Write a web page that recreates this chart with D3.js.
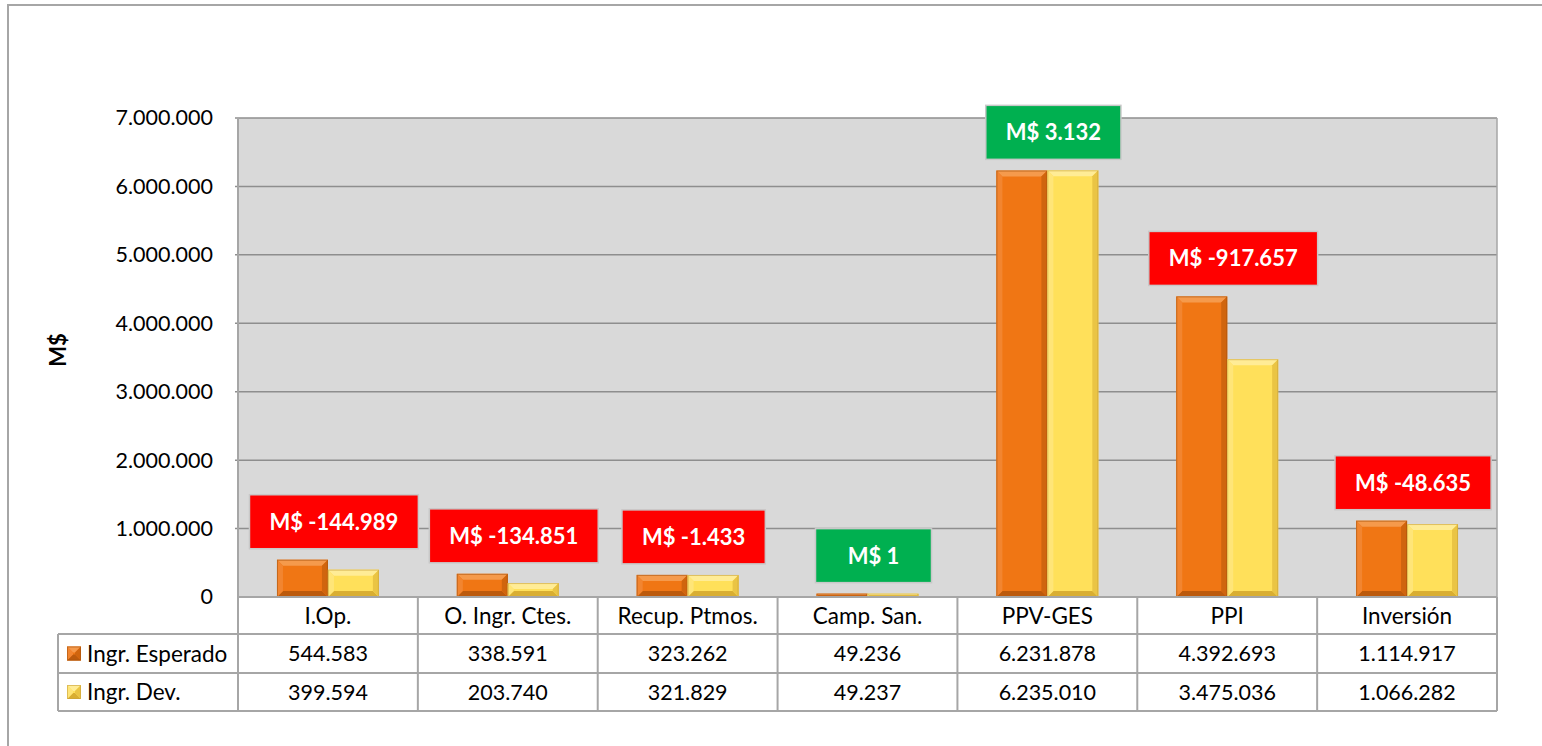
<!DOCTYPE html>
<html>
<head>
<meta charset="utf-8">
<script src="https://cdn.jsdelivr.net/npm/d3@7"></script>
<style>
  html, body { margin: 0; padding: 0; background: #fff; }
  svg { display: block; font-family: Lato, "Open Sans", sans-serif; }
</style>
</head>
<body>
<svg id="chart" width="1542" height="746"></svg>
<script>
// ---- data ----
const categories = ["I.Op.", "O. Ingr. Ctes.", "Recup. Ptmos.", "Camp. San.", "PPV-GES", "PPI", "Inversión"];
const seriesNames = ["Ingr. Esperado", "Ingr. Dev."];
const ingrEsperado = [544583, 338591, 323262, 49236, 6231878, 4392693, 1114917];
const ingrDev = [399594, 203740, 321829, 49237, 6235010, 3475036, 1066282];
const diferencia = [-144989, -134851, -1433, 1, 3132, -917657, -48635];
const yTicks = [0, 1000000, 2000000, 3000000, 4000000, 5000000, 6000000, 7000000];

// ---- layout ----
const W = 1542, H = 746;
const plot = { left: 238, right: 1497, top: 118, bottom: 597 };
const rowH = [37, 39, 38];
const legendLeft = 58;

const locale = d3.formatLocale({ decimal: ",", thousands: ".", grouping: [3], currency: ["$", ""] });
const fmt = locale.format(",d");

const svg = d3.select("#chart");
svg.append("rect").attr("width", W).attr("height", H).attr("fill", "#fff");

// outer chart border
svg.append("path").attr("d", `M8,${H} L8,5 L${W},5`).attr("fill", "none")
  .attr("stroke", "#A6A6A6").attr("stroke-width", 2);

const x0 = d3.scaleBand().domain(categories).range([plot.left, plot.right]).paddingInner(0).paddingOuter(0);
const x1 = d3.scaleBand().domain(seriesNames).range([0, x0.bandwidth()]).paddingInner(0).paddingOuter(0.765);
const y = d3.scaleLinear().domain([0, 7000000]).range([plot.bottom, plot.top]);

// plot background
svg.append("rect").attr("x", plot.left).attr("y", plot.top)
  .attr("width", plot.right - plot.left).attr("height", plot.bottom - plot.top)
  .attr("fill", "#D9D9D9");

// gridlines
svg.append("g").selectAll("line").data(yTicks.slice(1)).join("line")
  .attr("x1", plot.left - 3).attr("x2", plot.right)
  .attr("y1", d => y(d)).attr("y2", d => y(d))
  .attr("stroke", "#8E8E8E").attr("stroke-width", 1.5);

// right plot edge
svg.append("line").attr("x1", plot.right).attr("x2", plot.right)
  .attr("y1", plot.top).attr("y2", plot.bottom).attr("stroke", "#A6A6A6").attr("stroke-width", 1.5);

// y axis labels
const yAxis = d3.axisLeft(y).tickValues(yTicks).tickFormat(fmt).tickSize(0).tickPadding(25);
const ga = svg.append("g").attr("transform", `translate(${plot.left},0)`).call(yAxis);
ga.select(".domain").remove();
ga.selectAll("text").attr("font-size", 21.5).attr("fill", "#000")
  .attr("font-family", "Lato, sans-serif");

// y axis title
svg.append("text").attr("transform", "translate(66,350) rotate(-90)")
  .attr("text-anchor", "middle").attr("font-weight", "bold").attr("font-size", 22)
  .text("M$");

// ---- bevel bars ----
const palettes = {
  "Ingr. Esperado": { face: "#F07614", top: "#F59A4C", left: "#F28530", right: "#D0650E", bottom: "#BC5A0C", stroke: "#A9540E" },
  "Ingr. Dev.":     { face: "#FFE05A", top: "#FFEC96", left: "#FFE578", right: "#EAC444", bottom: "#D9AE32", stroke: "#C9A23A" }
};
function bevelBar(g, x, yTop, w, h, p) {
  const b = Math.max(0, Math.min(6, h / 2, w / 2));
  const yb = yTop + h, xr = x + w;
  const pt = a => a.map(q => q.join(",")).join(" ");
  g.append("rect").attr("x", x).attr("y", yTop).attr("width", w).attr("height", h).attr("fill", p.face);
  g.append("polygon").attr("points", pt([[x, yTop], [xr, yTop], [xr - b, yTop + b], [x + b, yTop + b]])).attr("fill", p.top);
  g.append("polygon").attr("points", pt([[x, yb], [xr, yb], [xr - b, yb - b], [x + b, yb - b]])).attr("fill", p.bottom);
  g.append("polygon").attr("points", pt([[x, yTop], [x + b, yTop + b], [x + b, yb - b], [x, yb]])).attr("fill", p.left);
  g.append("polygon").attr("points", pt([[xr, yTop], [xr - b, yTop + b], [xr - b, yb - b], [xr, yb]])).attr("fill", p.right);
  g.append("rect").attr("x", x + 0.5).attr("y", yTop + 0.5).attr("width", Math.max(0, w - 1)).attr("height", Math.max(0, h - 1))
    .attr("fill", "none").attr("stroke", p.stroke).attr("stroke-width", 1).attr("stroke-opacity", 0.6);
}

const barsG = svg.append("g");
const seriesVals = { "Ingr. Esperado": ingrEsperado, "Ingr. Dev.": ingrDev };
categories.forEach((c, i) => {
  seriesNames.forEach(s => {
    const v = seriesVals[s][i];
    const bx = x0(c) + x1(s);
    const by = y(v);
    bevelBar(barsG, bx, by, x1.bandwidth(), y(0) - by, palettes[s]);
  });
});

// ---- difference labels ----
const labG = svg.append("g");
categories.forEach((c, i) => {
  const d = diferencia[i];
  const maxV = Math.max(ingrEsperado[i], ingrDev[i]);
  const cx = x0(c) + x0.bandwidth() / 2 + 6;
  const boxBottom = y(maxV) - 11;
  const txt = "M$ " + (d < 0 ? "-" : "") + fmt(Math.abs(d));
  const g = labG.append("g");
  const t = g.append("text").attr("x", cx).attr("y", boxBottom - 27).attr("dy", "0.36em")
    .attr("text-anchor", "middle").attr("font-weight", "bold").attr("font-size", 22)
    .attr("fill", "#fff").text(txt);
  const tw = t.node().getComputedTextLength();
  const bw = Math.max(tw + 40, 116);
  g.insert("rect", "text").attr("x", cx - bw / 2).attr("y", boxBottom - 54)
    .attr("width", bw).attr("height", 54)
    .attr("fill", d < 0 ? "#FF0000" : "#00B050")
    .attr("stroke", "#C8C8C8").attr("stroke-width", 1.5);
});

// ---- data table ----
const tG = svg.append("g");
const yRow0 = plot.bottom, yRow1 = yRow0 + rowH[0], yRow2 = yRow1 + rowH[1], yRow3 = yRow2 + rowH[2];
const lineColor = "#A6A6A6";
function ln(x1_, y1_, x2_, y2_) {
  tG.append("line").attr("x1", x1_).attr("y1", y1_).attr("x2", x2_).attr("y2", y2_)
    .attr("stroke", lineColor).attr("stroke-width", 2);
}
tG.append("rect").attr("x", plot.left).attr("y", yRow0).attr("width", plot.right - plot.left).attr("height", yRow3 - yRow0).attr("fill", "#fff");
ln(plot.left, yRow0, plot.right, yRow0);
ln(legendLeft, yRow1, plot.right, yRow1);
ln(legendLeft, yRow2, plot.right, yRow2);
ln(legendLeft, yRow3, plot.right, yRow3);
ln(legendLeft, yRow1, legendLeft, yRow3);
ln(plot.left, plot.top, plot.left, yRow3);
categories.forEach(c => ln(x0(c) + x0.bandwidth(), yRow0, x0(c) + x0.bandwidth(), yRow3));

const cellText = (xx, yy, s, size, anchor) => tG.append("text").attr("x", xx).attr("y", yy).attr("dy", "0.36em")
  .attr("text-anchor", anchor || "middle").attr("font-size", size).attr("fill", "#000").text(s);

categories.forEach((c, i) => {
  const cx = x0(c) + x0.bandwidth() / 2;
  cellText(cx, (yRow0 + yRow1) / 2, c, 22.5);
  cellText(cx, (yRow1 + yRow2) / 2, fmt(ingrEsperado[i]), 21.5);
  cellText(cx, (yRow2 + yRow3) / 2, fmt(ingrDev[i]), 21.5);
});

// legend keys in table
[[seriesNames[0], yRow1, yRow2], [seriesNames[1], yRow2, yRow3]].forEach(([s, a, b]) => {
  const cy = (a + b) / 2;
  const kg = tG.append("g");
  bevelBar(kg, 67, cy - 7, 14, 14, palettes[s]);
  cellText(87, cy, s, 22.5, "start");
});
</script>
</body>
</html>
